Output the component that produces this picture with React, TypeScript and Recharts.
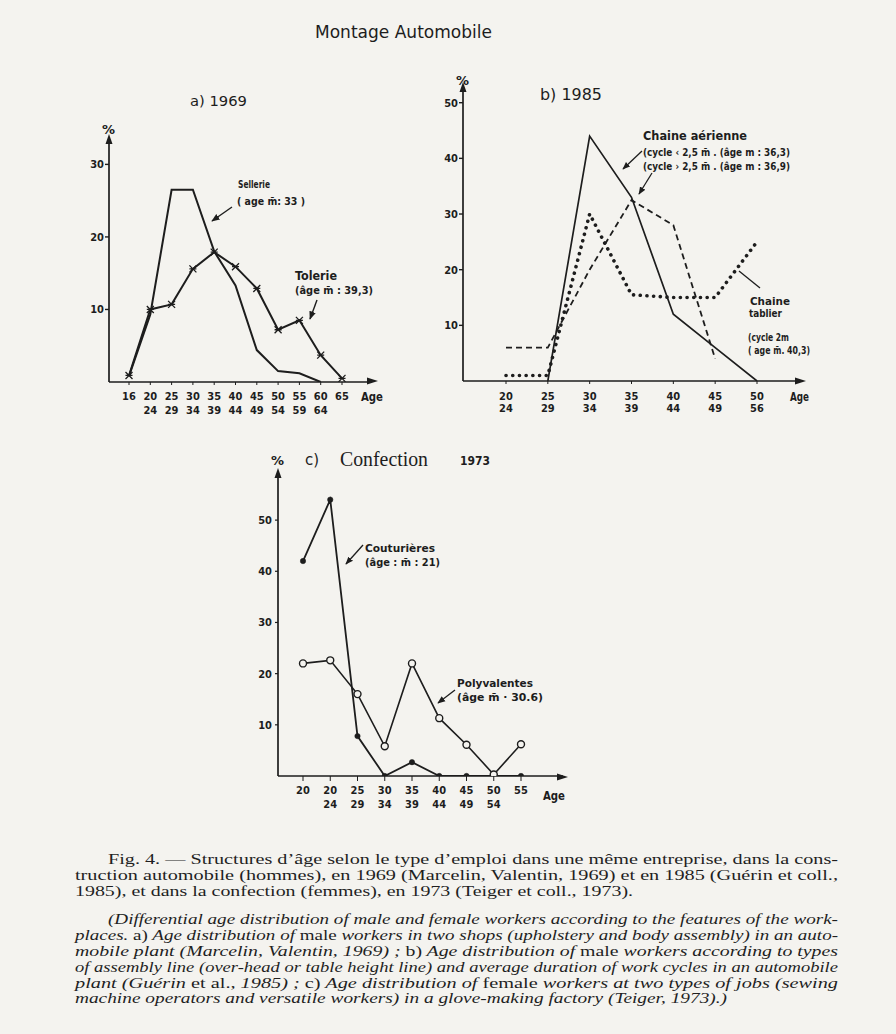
import React from "react";
import { LineChart, Line, XAxis, YAxis } from "recharts";

// ---------- data ----------
const agesA = ["16", "20", "25", "30", "35", "40", "45", "50", "55", "60", "65"];
const agesA2 = ["", "24", "29", "34", "39", "44", "49", "54", "59", "64", ""];
const sellerie = [0.8, 9.3, 26.5, 26.5, 18, 13.3, 4.4, 1.5, 1.2, 0, null];
const tolerie = [0.9, 10, 10.7, 15.6, 17.9, 15.9, 12.9, 7.2, 8.5, 3.7, 0.5];

const agesB = ["20", "25", "30", "35", "40", "45", "50"];
const agesB2 = ["24", "29", "34", "39", "44", "49", "56"];
const aerienneLt = [null, 0, 44, 33, 12, 6, 0];
const aerienneGt = [6, 6, 20, 32.5, 28, 4, null];
const tablier = [1, 1, 30, 15.5, 15, 15, 25];

const agesC = ["20", "20", "25", "30", "35", "40", "45", "50", "55"];
const agesC2 = ["", "24", "29", "34", "39", "44", "49", "54", ""];
const couturieres = [42, 54, 7.8, 0, 2.7, 0, 0, 0, 0];
const polyvalentes = [22, 22.6, 16, 5.8, 22, 11.3, 6.1, 0.3, 6.2];

const ticksA = [10, 20, 30];
const ticksB = [10, 20, 30, 40, 50];
const ticksC = [10, 20, 30, 40, 50];

const dataA = agesA.map((_, i) => ({ k: String(i), sellerie: sellerie[i], tolerie: tolerie[i] }));
const dataB = agesB.map((_, i) => ({ k: String(i), lt: aerienneLt[i], gt: aerienneGt[i], tab: tablier[i] }));
const dataC = agesC.map((_, i) => ({ k: String(i), cout: couturieres[i], poly: polyvalentes[i] }));

// ---------- style ----------
const INK = "#1d1d1d";
const PAPER = "#f4f3ef";
const LBL = "'DejaVu Sans Condensed','Liberation Sans Narrow','DejaVu Sans',sans-serif";
const SERIF = "'Liberation Serif','DejaVu Serif',serif";

function makeTick(top: string[], bottom: string[], dy1: number, gap: number) {
  return (props: any) => {
    const { x, y, payload } = props;
    const i = Number(payload.value);
    return (
      <text x={x} y={y} textAnchor="middle" fontFamily={LBL} fontWeight="bold" fontSize={11} fill={INK}>
        <tspan x={x} dy={dy1}>{top[i]}</tspan>
        <tspan x={x} dy={gap}>{bottom[i]}</tspan>
      </text>
    );
  };
}

const TickA = makeTick(agesA, agesA2, 13, 14);
const TickB = makeTick(agesB, agesB2, 14, 12);
const TickC = makeTick(agesC, agesC2, 11, 14);

const yTick = { fontFamily: LBL, fontWeight: "bold", fontSize: 11, fill: INK } as any;

const CrossDot = (props: any) => {
  const { cx, cy } = props;
  if (cx == null || cy == null) return <g />;
  const s = 3.5;
  return (
    <path
      d={`M${cx - s},${cy - s}L${cx + s},${cy + s}M${cx - s},${cy + s}L${cx + s},${cy - s}M${cx - s},${cy}L${cx + s},${cy}`}
      stroke={INK}
      strokeWidth={1.3}
      fill="none"
    />
  );
};

const Ann = ({ x, y, w, children, size = 11 }: any) => (
  <text
    x={x}
    y={y}
    textLength={w}
    lengthAdjust="spacingAndGlyphs"
    fontFamily={LBL}
    fontWeight="bold"
    fontSize={size}
    fill={INK}
  >
    {children}
  </text>
);

const Cap = ({ x, y, w, italic, children }: any) => (
  <text
    x={x}
    y={y}
    textLength={w}
    lengthAdjust="spacingAndGlyphs"
    fontFamily={SERIF}
    fontStyle={italic ? "italic" : "normal"}
    fontSize={15}
    fill="#1f1f1f"
  >
    {children}
  </text>
);

const R = ({ children }: any) => <tspan fontStyle="normal">{children}</tspan>;

const pos = (left: number, top: number): React.CSSProperties => ({ position: "absolute", left, top });

export default function App() {
  return (
    <div style={{ position: "absolute", left: 0, top: 0, width: 896, height: 1034, background: PAPER, overflow: "hidden" }}>
      {/* Chart a */}
      <div style={pos(60, 110)}>
        <LineChart width={340} height={310} data={dataA} margin={{ top: 29, right: 28, bottom: 8, left: 0 }}>
          <XAxis
            dataKey="k"
            type="category"
            interval={0}
            padding={{ left: 20, right: 30 }}
            tick={TickA}
            tickSize={3}
            tickLine={{ stroke: INK }}
            axisLine={{ stroke: INK, strokeWidth: 1.7 }}
            height={30}
          />
          <YAxis
            type="number"
            domain={[0, 33.5]}
            ticks={ticksA}
            width={49}
            tick={yTick}
            tickSize={4}
            tickMargin={1}
            tickLine={{ stroke: INK, strokeWidth: 1.4 }}
            axisLine={{ stroke: INK, strokeWidth: 1.7 }}
            allowDataOverflow
          />
          <Line dataKey="sellerie" stroke={INK} strokeWidth={2} dot={false} isAnimationActive={false} type="linear" />
          <Line dataKey="tolerie" stroke={INK} strokeWidth={2} dot={<CrossDot />} isAnimationActive={false} type="linear" />
        </LineChart>
      </div>

      {/* Chart b */}
      <div style={pos(420, 70)}>
        <LineChart width={400} height={345} data={dataB} margin={{ top: 16, right: 20, bottom: 4, left: 0 }}>
          <XAxis
            dataKey="k"
            type="category"
            interval={0}
            padding={{ left: 43, right: 43 }}
            tick={TickB}
            tickSize={3}
            tickLine={{ stroke: INK }}
            axisLine={{ stroke: INK, strokeWidth: 1.7 }}
            height={30}
          />
          <YAxis
            type="number"
            domain={[0, 53]}
            ticks={ticksB}
            width={43}
            tick={yTick}
            tickSize={4}
            tickMargin={1}
            tickLine={{ stroke: INK, strokeWidth: 1.4 }}
            axisLine={{ stroke: INK, strokeWidth: 1.7 }}
            allowDataOverflow
          />
          <Line dataKey="lt" stroke={INK} strokeWidth={1.7} dot={false} isAnimationActive={false} type="linear" />
          <Line dataKey="gt" stroke={INK} strokeWidth={1.8} strokeDasharray="6 4" dot={false} isAnimationActive={false} type="linear" />
          <Line
            dataKey="tab"
            stroke={INK}
            strokeWidth={3.6}
            strokeDasharray="0.1 6.6"
            strokeLinecap="round"
            dot={false}
            isAnimationActive={false}
            type="linear"
          />
        </LineChart>
      </div>

      {/* Chart c */}
      <div style={pos(240, 455)}>
        <LineChart width={360} height={355} data={dataC} margin={{ top: 17, right: 37, bottom: 4, left: 0 }}>
          <XAxis
            dataKey="k"
            type="category"
            interval={0}
            padding={{ left: 25, right: 42 }}
            tick={TickC}
            tickSize={5}
            tickLine={{ stroke: INK }}
            axisLine={{ stroke: INK, strokeWidth: 1.7 }}
            height={30}
          />
          <YAxis
            type="number"
            domain={[0, 59.4]}
            ticks={ticksC}
            width={38}
            tick={yTick}
            tickSize={3}
            tickMargin={3}
            tickLine={{ stroke: INK, strokeWidth: 1.2 }}
            axisLine={{ stroke: INK, strokeWidth: 1.7 }}
            allowDataOverflow
          />
          <Line
            dataKey="cout"
            stroke={INK}
            strokeWidth={1.8}
            dot={{ r: 2.7, fill: INK, stroke: INK, strokeWidth: 0.5 }}
            isAnimationActive={false}
            type="linear"
          />
          <Line
            dataKey="poly"
            stroke={INK}
            strokeWidth={1.6}
            dot={{ r: 3.5, fill: PAPER, stroke: INK, strokeWidth: 1.4 }}
            isAnimationActive={false}
            type="linear"
          />
        </LineChart>
      </div>

      {/* overlay: titles, annotations, caption */}
      <svg width={896} height={1034} style={{ position: "absolute", left: 0, top: 0, pointerEvents: "none" }}>
        <defs>
          <marker id="ah" viewBox="0 0 10 10" refX="9" refY="5" markerWidth="6" markerHeight="6" orient="auto-start-reverse">
            <path d="M0,1L10,5L0,9z" fill={INK} />
          </marker>
        </defs>

        {/* title */}
        <text x={315} y={38} textLength={177} lengthAdjust="spacingAndGlyphs" fontFamily="'DejaVu Sans',sans-serif" fontSize={17} fill={INK}>
          Montage Automobile
        </text>

        {/* axis arrows */}
        <path d="M109,134L105.5,144L112.5,144z" fill={INK} />
        <path d="M378,381L367,377.5L367,384.5z" fill={INK} />
        <path d="M463,82L459.5,92L466.5,92z" fill={INK} />
        <path d="M806,381L795,377.5L795,384.5z" fill={INK} />
        <path d="M278,468L274.5,478L281.5,478z" fill={INK} />
        <path d="M568,777L557,773.5L557,780.5z" fill={INK} />

        {/* panel a */}
        <text x={190} y={106} textLength={57} lengthAdjust="spacingAndGlyphs" fontFamily="'DejaVu Sans',sans-serif" fontSize={14} fill={INK}>a) 1969</text>
        <text x={102} y={134} fontFamily="'DejaVu Sans',sans-serif" fontSize={13} fontWeight="bold" fill={INK}>%</text>
        <Ann x={361} y={401} w={22} size={12}>Age</Ann>
        <Ann x={238} y={188} w={32}>Sellerie</Ann>
        <Ann x={237} y={205} w={68}>( age m̄: 33 )</Ann>
        <line x1={232} y1={207} x2={212} y2={221} stroke={INK} strokeWidth={1.4} markerEnd="url(#ah)" />
        <Ann x={295} y={280} w={42} size={12}>Tolerie</Ann>
        <Ann x={295} y={294} w={78}>(âge m̄ : 39,3)</Ann>
        <line x1={317} y1={300} x2={310} y2={319} stroke={INK} strokeWidth={1.4} markerEnd="url(#ah)" />

        {/* panel b */}
        <text x={540} y={100} textLength={62} lengthAdjust="spacingAndGlyphs" fontFamily="'DejaVu Sans',sans-serif" fontSize={15} fill={INK}>b) 1985</text>
        <text x={456} y={85} fontFamily="'DejaVu Sans',sans-serif" fontSize={13} fontWeight="bold" fill={INK}>%</text>
        <Ann x={790} y={401} w={19} size={12}>Age</Ann>
        <Ann x={643} y={140} w={104} size={12}>Chaine aérienne</Ann>
        <Ann x={643} y={156} w={147} size={10}>(cycle ‹ 2,5 m̄ . (âge m : 36,3)</Ann>
        <Ann x={643} y={170} w={147} size={10}>(cycle › 2,5 m̄ . (âge m : 36,9)</Ann>
        <line x1={642} y1={151} x2={623} y2={169} stroke={INK} strokeWidth={1.3} markerEnd="url(#ah)" />
        <line x1={652} y1={173} x2={639} y2={194} stroke={INK} strokeWidth={1.3} markerEnd="url(#ah)" />
        <Ann x={750} y={305} w={40}>Chaine</Ann>
        <Ann x={749} y={317} w={33}>tablier</Ann>
        <Ann x={748} y={341} w={41}>(cycle 2m</Ann>
        <Ann x={748} y={354} w={62}>( age m̄. 40,3)</Ann>
        <line x1={760} y1={288} x2={739} y2={271} stroke={INK} strokeWidth={1.3} />

        {/* panel c */}
        <text x={271} y={465} fontFamily="'DejaVu Sans',sans-serif" fontSize={13} fontWeight="bold" fill={INK}>%</text>
        <text x={305} y={465} fontFamily="'DejaVu Sans',sans-serif" fontSize={15} fill={INK}>c)</text>
        <text x={340} y={466} textLength={88} lengthAdjust="spacingAndGlyphs" fontFamily={SERIF} fontSize={20} fill={INK}>Confection</text>
        <text x={460} y={465} textLength={30} lengthAdjust="spacingAndGlyphs" fontFamily="'DejaVu Sans',sans-serif" fontWeight="bold" fontSize={13} fill={INK}>1973</text>
        <Ann x={543} y={800} w={22} size={12}>Age</Ann>
        <Ann x={365} y={552} w={70}>Couturières</Ann>
        <Ann x={365} y={566} w={75}>(âge : m̄ : 21)</Ann>
        <line x1={363} y1={545} x2={346} y2={564} stroke={INK} strokeWidth={1.3} markerEnd="url(#ah)" />
        <Ann x={457} y={687} w={76}>Polyvalentes</Ann>
        <Ann x={457} y={701} w={86}>(âge  m̄ · 30.6)</Ann>
        <line x1={455} y1={690} x2={438} y2={703} stroke={INK} strokeWidth={1.3} markerEnd="url(#ah)" />

        {/* caption */}
        <Cap x={108} y={864} w={730}>Fig. 4. — Structures d’âge selon le type d’emploi dans une même entreprise, dans la cons-</Cap>
        <Cap x={75} y={880} w={763}>truction automobile (hommes), en 1969 (Marcelin, Valentin, 1969) et en 1985 (Guérin et coll.,</Cap>
        <Cap x={75} y={896} w={558}>1985), et dans la confection (femmes), en 1973 (Teiger et coll., 1973).</Cap>

        <Cap x={108} y={924} w={730} italic>(Differential age distribution of male and female workers according to the features of the work-</Cap>
        <Cap x={75} y={940} w={763} italic>places. <R>a)</R> Age distribution of <R>male</R> workers in two shops (upholstery and body assembly) in an auto-</Cap>
        <Cap x={75} y={956} w={763} italic>mobile plant (Marcelin, Valentin, 1969) ; <R>b)</R> Age distribution of <R>male</R> workers according to types</Cap>
        <Cap x={75} y={972} w={763} italic>of assembly line (over-head or table height line) and average duration of work cycles in an automobile</Cap>
        <Cap x={75} y={988} w={763} italic>plant (Guérin <R>et al.,</R> 1985)  ; <R>c)</R> Age distribution of <R>female</R> workers at two types of jobs (sewing</Cap>
        <Cap x={75} y={1003} w={652} italic>machine operators and versatile workers) in a glove-making factory (Teiger, 1973).)</Cap>
      </svg>
    </div>
  );
}
